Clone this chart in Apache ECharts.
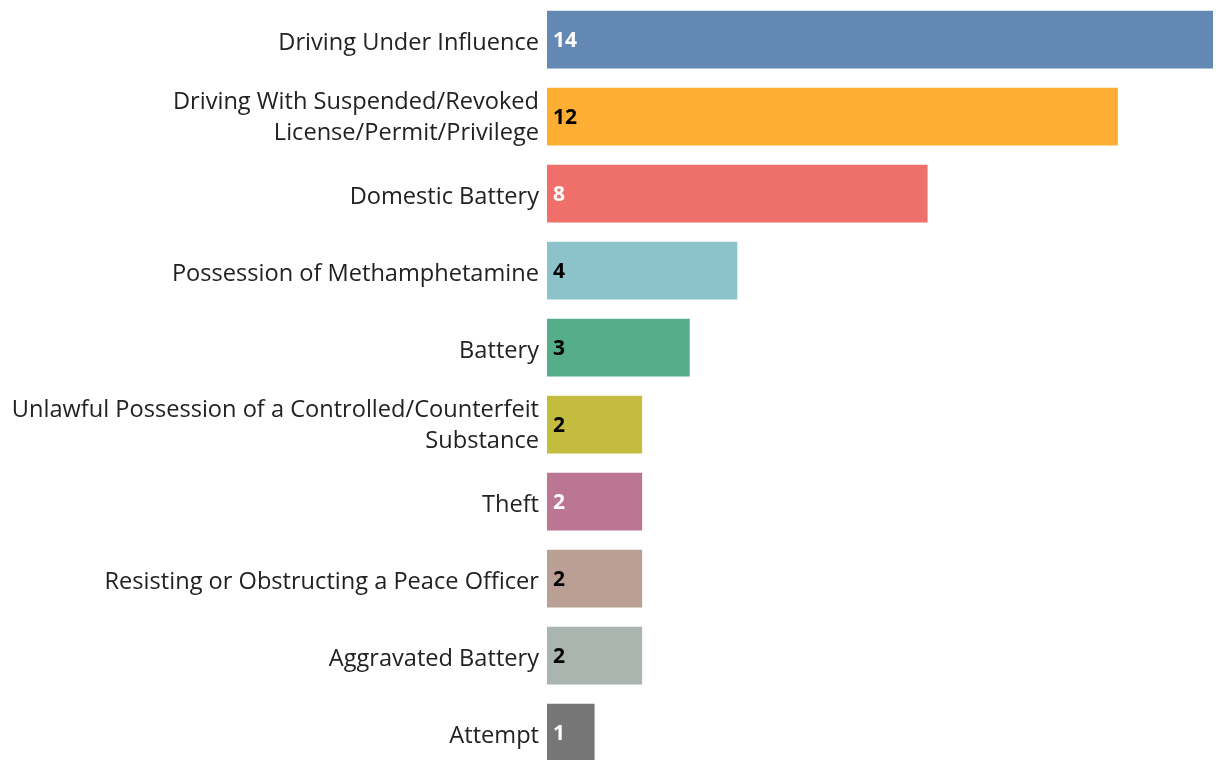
<!DOCTYPE html>
<html>
<head>
<meta charset="utf-8">
<script src="https://cdn.jsdelivr.net/npm/echarts@6/dist/echarts.min.js"></script>
<style>
  html, body { margin: 0; padding: 0; background: #fff; }
  #chart { width: 1216px; height: 760px; }
</style>
</head>
<body>
<div id="chart"></div>
<script>
// 数据
const categories = [
  'Driving Under Influence',
  'Driving With Suspended/Revoked\nLicense/Permit/Privilege',
  'Domestic Battery',
  'Possession of Methamphetamine',
  'Battery',
  'Unlawful Possession of a Controlled/Counterfeit\nSubstance',
  'Theft',
  'Resisting or Obstructing a Peace Officer',
  'Aggravated Battery',
  'Attempt'
]
const counts = [14, 12, 8, 4, 3, 2, 2, 2, 2, 1]
const barColors = ['#6388b4', '#ffae34', '#ef6f6a', '#8cc2ca', '#55ad89',
  '#c3bc3f', '#bb7693', '#baa094', '#a9b5ae', '#767676']
const labelColors = ['#fff', '#000', '#fff', '#000', '#000',
  '#000', '#fff', '#000', '#000', '#fff']

const chart = echarts.init(document.getElementById('chart'))

const labelFont = { fontFamily: 'Open Sans', fontSize: 23.6, lineHeight: 31, color: '#222' }

chart.setOption({
  animation: false,
  // 最后一根柱子被画面底边裁掉一截，所以不让网格缩进视口
  grid: { left: 547, top: 1, width: 666, height: 770, outerBoundsMode: 'none' },
  xAxis: {
    type: 'value',
    min: 0,
    max: 14,
    show: false
  },
  yAxis: {
    type: 'category',
    inverse: true,
    data: categories,
    axisLine: { show: false },
    axisTick: { show: false },
    axisLabel: {
      margin: 8,
      align: 'right',
      // 用 rich 把文字整体往下挪几像素（单行挪得多一点）
      formatter: (v) => {
        const lines = v.split('\n')
        const key = lines.length > 1 ? 'm' : 't'
        return lines.map((s) => '{' + key + '|' + s + '}').join('\n')
      },
      rich: {
        t: Object.assign({ padding: [8, 0, 0, 0] }, labelFont),
        m: Object.assign({ padding: [3, 0, 0, 0] }, labelFont)
      }
    }
  },
  series: [{
    type: 'bar',
    barCategoryGap: '25%',
    data: counts.map((v, i) => ({
      value: v,
      itemStyle: { color: barColors[i] },
      label: { color: labelColors[i] }
    })),
    label: {
      show: true,
      position: 'insideLeft',
      distance: 6,
      offset: [0, 2],
      fontFamily: 'Open Sans',
      fontWeight: 'bold',
      fontSize: 21
    }
  }]
})
</script>
</body>
</html>
